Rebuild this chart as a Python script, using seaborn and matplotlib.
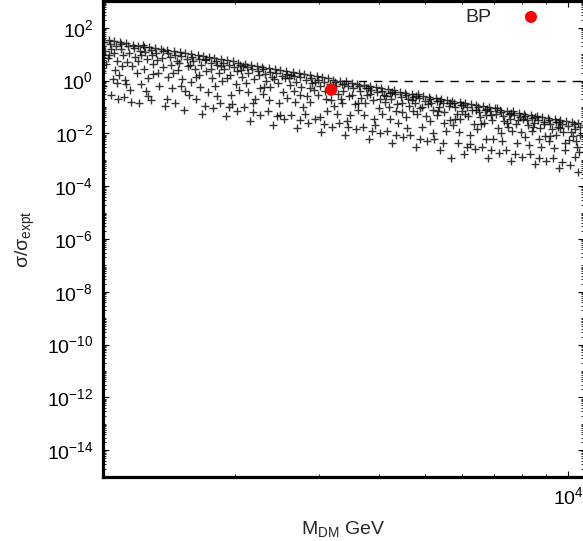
import numpy as np
import pandas as pd
import matplotlib

matplotlib.use('Agg')
import matplotlib.pyplot as plt
import seaborn as sns
from matplotlib.ticker import FixedLocator, LogLocator, NullFormatter

sns.set_theme(style="ticks")
plt.rcParams['font.family'] = ['Liberation Sans', 'DejaVu Sans']
plt.rcParams['mathtext.fontset'] = 'custom'
plt.rcParams['mathtext.rm'] = 'Liberation Sans'
plt.rcParams['mathtext.it'] = 'Liberation Sans'
plt.rcParams['mathtext.default'] = 'regular'
plt.rcParams['axes.unicode_minus'] = False

# ==========================================
# data (log10 M_DM [GeV], log10 sigma/sigma_expt)
# ==========================================
scan_log10 = [
    (3.020, 1.58), (3.025, 1.45), (3.022, 1.30), (3.028, 1.10), (3.030, 0.62), (3.021, 0.35), (3.024, -0.20),
    (3.019, -0.45), (3.035, 1.55), (3.038, 1.38), (3.041, 1.20), (3.036, 0.95), (3.044, 0.05), (3.040, -0.55),
    (3.047, 1.50), (3.050, 1.32), (3.052, 0.75), (3.048, 0.40), (3.055, -0.70), (3.053, -0.10),
    (3.058, 1.47), (3.062, 1.40), (3.060, 1.18), (3.066, 0.98), (3.064, 0.55), (3.069, 0.02), (3.067, -0.62),
    (3.072, 1.43), (3.075, 1.30), (3.078, 1.05), (3.074, 0.70), (3.080, -0.35), (3.083, -0.80), (3.086, 1.36),
    (3.089, 1.22), (3.091, 0.88), (3.094, 0.30), (3.097, 1.30), (3.100, 1.10), (3.102, -0.15), (3.099, -0.85),
    (3.107, 1.33), (3.110, 1.25), (3.112, 1.08), (3.115, 0.80), (3.109, 0.45), (3.118, 0.10), (3.114, -0.40),
    (3.120, 1.28), (3.123, 1.15), (3.126, 0.95), (3.129, 0.62), (3.124, -0.75), (3.132, 1.22), (3.135, 1.05),
    (3.138, 0.30), (3.141, -0.20), (3.144, 1.20), (3.147, 0.85), (3.150, 0.50), (3.153, -0.95),
    (3.157, 1.16), (3.160, 1.05), (3.163, 0.90), (3.166, 0.60), (3.159, 0.15), (3.169, -0.30), (3.172, 1.12),
    (3.175, 0.98), (3.178, 0.72), (3.174, -0.85), (3.181, 0.40), (3.184, 1.08), (3.187, 0.92), (3.190, 0.05),
    (3.193, -1.10), (3.196, 1.04), (3.199, 0.80), (3.202, 0.55), (3.204, -0.55), (3.188, -0.20),
    (3.207, 1.00), (3.210, 0.90), (3.213, 0.72), (3.216, 0.45), (3.209, -0.05), (3.219, -0.70), (3.222, 0.96),
    (3.225, 0.82), (3.228, 0.60), (3.224, 0.20), (3.231, -1.25), (3.234, 0.92), (3.237, 0.76), (3.240, 0.35),
    (3.243, -0.45), (3.246, 0.88), (3.249, 0.65), (3.252, 0.10), (3.254, -1.05), (3.238, -0.95),
    (3.257, 0.84), (3.260, 0.75), (3.263, 0.58), (3.266, 0.30), (3.259, -0.20), (3.269, -0.85), (3.272, 0.80),
    (3.275, 0.66), (3.278, 0.45), (3.274, 0.00), (3.281, -1.35), (3.284, 0.76), (3.287, 0.60), (3.290, 0.20),
    (3.293, -0.55), (3.296, 0.72), (3.299, 0.50), (3.302, -0.15), (3.304, -1.15), (3.288, -1.00),
    (3.307, 0.67), (3.310, 0.58), (3.313, 0.40), (3.316, 0.15), (3.309, -0.35), (3.319, -1.00), (3.322, 0.64),
    (3.325, 0.50), (3.328, 0.30), (3.324, -0.10), (3.331, -1.55), (3.334, 0.60), (3.337, 0.44), (3.340, 0.05),
    (3.343, -0.70), (3.346, 0.55), (3.349, 0.35), (3.352, -0.30), (3.354, -1.30), (3.338, -1.20),
    (3.357, 0.51), (3.360, 0.42), (3.363, 0.25), (3.366, 0.00), (3.359, -0.50), (3.369, -1.15), (3.372, 0.48),
    (3.375, 0.34), (3.378, 0.12), (3.374, -0.25), (3.381, -1.68), (3.384, 0.44), (3.387, 0.28), (3.390, -0.10),
    (3.393, -0.85), (3.396, 0.40), (3.399, 0.18), (3.402, -0.45), (3.404, -1.45), (3.388, -1.35),
    (3.407, 0.35), (3.410, 0.26), (3.413, 0.08), (3.416, -0.18), (3.409, -0.65), (3.419, -1.30), (3.422, 0.32),
    (3.425, 0.18), (3.428, -0.05), (3.424, -0.40), (3.431, -1.80), (3.434, 0.28), (3.437, 0.12), (3.440, -0.25),
    (3.443, -1.00), (3.446, 0.24), (3.449, 0.02), (3.452, -0.60), (3.454, -1.60), (3.438, -1.50),
    (3.457, 0.19), (3.460, 0.10), (3.463, -0.08), (3.466, -0.35), (3.459, -0.80), (3.469, -1.45), (3.472, 0.16),
    (3.475, 0.02), (3.478, -0.20), (3.474, -0.55), (3.481, -1.95), (3.484, 0.12), (3.487, -0.04), (3.490, -0.40),
    (3.493, -1.15), (3.496, 0.08), (3.499, -0.12), (3.502, -0.75), (3.504, -1.75), (3.488, -1.65),
    (3.507, 0.02), (3.510, -0.05), (3.512, -0.22), (3.516, -0.50), (3.509, -0.95), (3.518, -1.60), (3.521, 0.00),
    (3.525, -0.12), (3.528, -0.38), (3.523, -0.70), (3.531, -2.05), (3.534, -0.03), (3.537, -0.20), (3.540, -0.60),
    (3.543, -1.30), (3.546, -0.08), (3.549, -0.30), (3.552, -0.90), (3.554, -1.85), (3.538, -1.75), (3.530, -0.15),
    (3.557, -0.14), (3.560, -0.22), (3.563, -0.40), (3.566, -0.65), (3.559, -1.10), (3.569, -1.75), (3.572, -0.18),
    (3.575, -0.30), (3.578, -0.55), (3.574, -0.85), (3.581, -2.20), (3.584, -0.20), (3.587, -0.36), (3.590, -0.75),
    (3.593, -1.45), (3.596, -0.26), (3.599, -0.45), (3.602, -1.05), (3.604, -2.00), (3.588, -1.90), (3.580, -0.28),
    (3.607, -0.30), (3.610, -0.38), (3.613, -0.55), (3.616, -0.80), (3.609, -1.25), (3.619, -1.90), (3.622, -0.34),
    (3.625, -0.46), (3.628, -0.70), (3.624, -1.00), (3.631, -2.35), (3.634, -0.37), (3.637, -0.52), (3.640, -0.90),
    (3.643, -1.60), (3.646, -0.42), (3.649, -0.62), (3.652, -1.20), (3.654, -2.15), (3.638, -2.05), (3.630, -0.44),
    (3.657, -0.46), (3.660, -0.54), (3.663, -0.70), (3.666, -0.95), (3.659, -1.40), (3.669, -2.05), (3.672, -0.50),
    (3.675, -0.62), (3.678, -0.85), (3.674, -1.15), (3.681, -2.50), (3.684, -0.53), (3.687, -0.68), (3.690, -1.05),
    (3.693, -1.75), (3.696, -0.58), (3.699, -0.78), (3.702, -1.35), (3.704, -2.30), (3.688, -2.20), (3.680, -0.60),
    (3.707, -0.62), (3.710, -0.70), (3.713, -0.86), (3.716, -1.10), (3.709, -1.55), (3.719, -2.20), (3.722, -0.66),
    (3.725, -0.78), (3.728, -1.00), (3.724, -1.30), (3.731, -2.65), (3.734, -0.69), (3.737, -0.84), (3.740, -1.20),
    (3.743, -1.90), (3.746, -0.74), (3.749, -0.95), (3.752, -1.50), (3.754, -2.95), (3.738, -2.35), (3.730, -0.76),
    (3.757, -0.78), (3.760, -0.86), (3.763, -1.02), (3.766, -1.25), (3.759, -1.70), (3.769, -2.35), (3.772, -0.82),
    (3.775, -0.94), (3.778, -1.15), (3.774, -1.45), (3.781, -2.78), (3.784, -0.85), (3.787, -1.00), (3.790, -1.35),
    (3.793, -2.05), (3.796, -0.90), (3.799, -1.10), (3.802, -1.65), (3.804, -2.60), (3.788, -2.50), (3.780, -0.92),
    (3.807, -0.94), (3.810, -1.02), (3.813, -1.18), (3.816, -1.40), (3.809, -1.85), (3.819, -2.50), (3.822, -0.98),
    (3.825, -1.10), (3.828, -1.30), (3.824, -1.60), (3.831, -2.92), (3.834, -1.01), (3.837, -1.16), (3.840, -1.50),
    (3.843, -2.20), (3.846, -1.06), (3.849, -1.25), (3.852, -1.80), (3.854, -2.75), (3.838, -2.65), (3.830, -1.08),
    (3.857, -1.10), (3.860, -1.18), (3.863, -1.34), (3.866, -1.55), (3.859, -2.00), (3.869, -2.65), (3.872, -1.14),
    (3.875, -1.26), (3.878, -1.45), (3.874, -1.75), (3.881, -3.05), (3.884, -1.17), (3.887, -1.32), (3.890, -1.65),
    (3.893, -2.35), (3.896, -1.22), (3.899, -1.40), (3.902, -1.95), (3.904, -2.90), (3.888, -2.80), (3.880, -1.24),
    (3.907, -1.26), (3.910, -1.34), (3.913, -1.50), (3.916, -1.70), (3.909, -2.15), (3.919, -2.80), (3.922, -1.30),
    (3.925, -1.42), (3.928, -1.60), (3.924, -1.90), (3.931, -3.18), (3.934, -1.33), (3.937, -1.48), (3.940, -1.80),
    (3.943, -2.50), (3.946, -1.38), (3.949, -1.56), (3.952, -2.10), (3.954, -3.05), (3.938, -2.95), (3.930, -1.40),
    (3.957, -1.42), (3.960, -1.50), (3.963, -1.66), (3.966, -1.85), (3.959, -2.30), (3.969, -2.95), (3.972, -1.46),
    (3.975, -1.58), (3.978, -1.75), (3.974, -2.05), (3.981, -3.30), (3.984, -1.49), (3.987, -1.64), (3.990, -1.95),
    (3.993, -2.65), (3.996, -1.54), (3.999, -1.72), (4.002, -2.25), (4.004, -3.20), (3.988, -3.10), (3.980, -1.56),
    (4.008, -1.58), (4.012, -1.66), (4.015, -1.85), (4.010, -2.10), (4.018, -2.50), (4.021, -1.62), (4.024, -1.75),
    (4.020, -3.45), (4.026, -2.05), (4.014, -2.90),
]

# extra scattered points filling the middle of the band
scan_log10_extra = [
    (3.033, 0.85), (3.046, 1.05), (3.057, 0.20), (3.071, -0.15), (3.085, 0.55), (3.096, 0.75), (3.104, 0.95),
    (3.117, -0.60), (3.128, 0.25), (3.137, 0.78), (3.149, 1.10), (3.158, -0.70), (3.171, 0.30), (3.183, 0.68),
    (3.195, -0.40), (3.206, 0.60), (3.218, 0.15), (3.227, -0.25), (3.239, 0.82), (3.250, 0.42), (3.262, -0.60),
    (3.271, 0.55), (3.283, 0.10), (3.295, -0.90), (3.305, 0.35), (3.318, 0.55), (3.327, -0.45), (3.339, -0.85),
    (3.351, 0.20), (3.362, -0.25), (3.371, -0.75), (3.383, 0.05), (3.394, -1.30), (3.405, 0.10), (3.418, 0.20),
    (3.427, -0.80), (3.436, -0.55), (3.448, -1.25), (3.458, -0.30), (3.468, -0.05), (3.479, -1.40), (3.491, -0.70),
    (3.503, -0.45), (3.514, -1.25), (3.526, -0.85), (3.536, -1.55), (3.547, -0.55), (3.558, -0.85), (3.571, -1.30),
    (3.583, -0.50), (3.594, -1.70), (3.606, -0.70), (3.618, -0.60), (3.627, -1.45), (3.639, -1.15), (3.651, -0.85),
    (3.661, -1.80), (3.673, -0.75), (3.683, -1.25), (3.694, -1.00), (3.706, -0.90), (3.717, -2.00), (3.727, -1.15),
    (3.739, -1.60), (3.751, -0.85), (3.762, -1.45), (3.771, -1.95), (3.783, -1.25), (3.794, -2.40), (3.806, -1.10),
    (3.817, -1.65), (3.827, -2.20), (3.839, -1.30), (3.851, -1.05), (3.862, -2.30), (3.871, -1.60), (3.883, -1.90),
    (3.894, -1.50), (3.906, -1.45), (3.917, -2.45), (3.926, -1.75), (3.939, -2.20), (3.950, -1.65), (3.961, -2.10),
    (3.971, -2.55), (3.983, -1.80), (3.994, -2.35), (4.006, -1.95), (4.016, -2.30), (4.023, -2.70),
]

bp_mdm = [3180]
bp_ratio = [0.45]

cut_mdm = [3370, 10800]
cut_ratio = [1.0, 1.0]

yticks_major = [1e-14, 1e-12, 1e-10, 1e-8, 1e-6, 1e-4, 1e-2, 1e0, 1e2]
xticks_major = [1e4]

df = pd.DataFrame(scan_log10 + scan_log10_extra, columns=['log_m', 'log_r'])
df['M_DM'] = 10 ** df['log_m']
df['ratio'] = 10 ** df['log_r']

# ==========================================
# plot
# ==========================================
fig = plt.figure(figsize=(5.83, 5.41), dpi=100)
ax = fig.add_axes([0.1767, 0.1192, 0.8250, 0.8784])

sns.scatterplot(data=df, x='M_DM', y='ratio', marker='+', color='black', s=30,
                linewidth=1.0, alpha=0.8, ax=ax, legend=False)
ax.plot(cut_mdm, cut_ratio, color='black', lw=1.0, dashes=(6, 5))
sns.scatterplot(x=bp_mdm, y=bp_ratio, color='red', s=75, edgecolor='none', label='BP', ax=ax)

ax.set_xscale('log')
ax.set_yscale('log')
ax.set_xlim(1055, 10800)
ax.set_ylim(1e-15, 1e3)

ax.xaxis.set_major_locator(FixedLocator(xticks_major))
ax.xaxis.set_minor_locator(LogLocator(base=10, subs=np.arange(2, 10), numticks=50))
ax.xaxis.set_minor_formatter(NullFormatter())
ax.yaxis.set_major_locator(FixedLocator(yticks_major))
ax.yaxis.set_minor_locator(LogLocator(base=10, subs=np.arange(1, 10), numticks=200))
ax.yaxis.set_minor_formatter(NullFormatter())

ax.tick_params(which='both', direction='in', top=True, right=True, colors='black', labelsize=14)
ax.tick_params(which='major', length=4.5, width=0.8, pad=7)
ax.tick_params(which='minor', length=2.2, width=0.6)

for side in ['left', 'bottom', 'top']:
    ax.spines[side].set_linewidth(2.3)
    ax.spines[side].set_color('black')
ax.spines['right'].set_visible(False)

ax.set_xlabel('$M_{DM}$ GeV', fontsize=14)
ax.set_ylabel('σ/σ$_{expt}$', fontsize=14)
ax.xaxis.set_label_coords(0.499, -0.089)
ax.yaxis.set_label_coords(-0.137, 0.5)

ax.legend(loc='upper right', bbox_to_anchor=(0.910, 0.985), frameon=False, markerfirst=False,
          handlelength=1.0, handletextpad=1.56, borderpad=0, borderaxespad=0, fontsize=14)

plt.savefig('out.png', dpi=100)
plt.close()
